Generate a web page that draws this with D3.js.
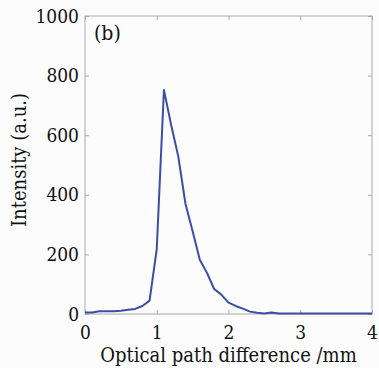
<!DOCTYPE html>
<html>
<head>
<meta charset="utf-8">
<script src="https://cdn.jsdelivr.net/npm/d3@7"></script>
<style>
  body { margin: 0; background: #fcfcfc; }
  svg { display: block; }
  text { font-family: "DejaVu Serif Condensed", "DejaVu Serif", serif; font-stretch: condensed; fill: #111; }
</style>
</head>
<body>
<div id="chart"></div>
<script>
// optical path difference (mm) and intensity (a.u.)
const opd = [0, 0.1, 0.2, 0.3, 0.4, 0.5, 0.6, 0.7, 0.8, 0.9, 1.0, 1.1, 1.2, 1.3, 1.4, 1.5, 1.6, 1.7, 1.8, 1.9,
  2.0, 2.1, 2.2, 2.3, 2.4, 2.5, 2.6, 2.7, 2.8, 2.9, 3.0, 3.1, 3.2, 3.3, 3.4, 3.5, 3.6, 3.7, 3.8, 3.9, 4.0];
const intensity = [5, 5, 9, 9, 9, 11, 14, 17, 27, 45, 218, 752, 635, 529, 370, 278, 182, 138, 84, 65,
  38, 27, 18, 8, 4, 2, 5, 2, 2, 2, 2, 2, 2, 2, 2, 2, 2, 2, 2, 2, 2];
const xTicks = [0, 1, 2, 3, 4];
const yTicks = [0, 200, 400, 600, 800, 1000];

const margin = {top: 16, right: 7, bottom: 54, left: 85};
const W = 379, H = 368;
const width = W - margin.left - margin.right;
const height = H - margin.top - margin.bottom;

const svg = d3.select('#chart').append('svg')
  .attr('width', W)
  .attr('height', H);

const g = svg.append('g')
  .attr('transform', 'translate(' + margin.left + ',' + margin.top + ')');

const x = d3.scaleLinear().domain([0, 4]).range([0, width]);
const y = d3.scaleLinear().domain([0, 1000]).range([height, 0]);

// frame
g.append('rect')
  .attr('width', width).attr('height', height)
  .attr('fill', 'none').attr('stroke', '#aaa').attr('stroke-width', 1);

const tickStyle = sel => {
  sel.select('.domain').remove();
  sel.selectAll('line').attr('stroke', '#aaa');
  sel.selectAll('text').style('font-size', '19px');
};

g.append('g')
  .attr('transform', 'translate(0,' + height + ')')
  .call(d3.axisBottom(x).tickValues(xTicks).tickSize(-4).tickPadding(8).tickFormat(d3.format('d')))
  .call(tickStyle)
  .selectAll('text').attr('dy', '0.9em');

g.append('g')
  .call(d3.axisTop(x).tickValues(xTicks).tickSize(-4).tickFormat(''))
  .call(tickStyle);

g.append('g')
  .call(d3.axisLeft(y).tickValues(yTicks).tickSize(-4).tickPadding(6).tickFormat(d3.format('d')))
  .call(tickStyle);

g.append('g')
  .attr('transform', 'translate(' + width + ',0)')
  .call(d3.axisRight(y).tickValues(yTicks).tickSize(-4).tickFormat(''))
  .call(tickStyle);

const pts = opd.map((d, i) => [d, intensity[i]]);
g.append('path')
  .datum(pts)
  .attr('fill', 'none')
  .attr('stroke', '#3a4ea6')
  .attr('stroke-width', 2)
  .attr('stroke-linejoin', 'round')
  .attr('d', d3.line().x(d => x(d[0])).y(d => y(d[1])));

g.append('text')
  .attr('x', 9).attr('y', 24)
  .style('font-size', '21px')
  .text('(b)');

svg.append('text')
  .attr('x', margin.left + width / 2)
  .attr('y', 362)
  .attr('text-anchor', 'middle')
  .style('font-size', '20px')
  .text('Optical path difference /mm');

svg.append('text')
  .attr('transform', 'translate(26,' + (margin.top + height / 2 - 5) + ') rotate(-90)')
  .attr('text-anchor', 'middle')
  .style('font-size', '20px')
  .text('Intensity (a.u.)');
</script>
</body>
</html>
